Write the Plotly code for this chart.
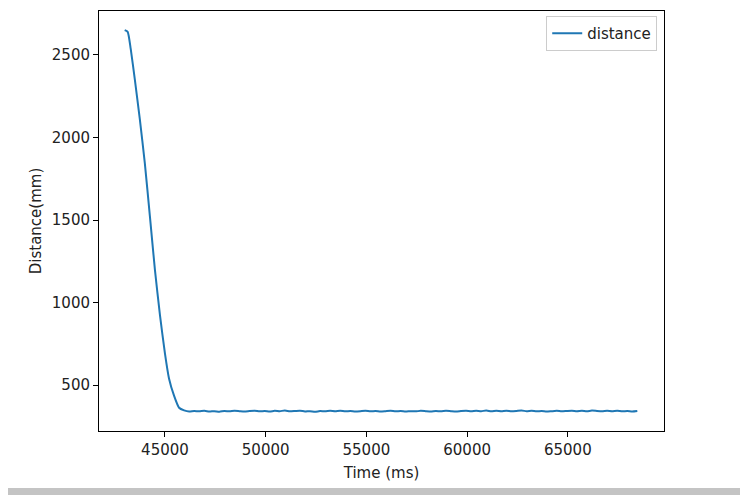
import plotly.graph_objects as go

# time stamps (ms) and measured distance (mm)
time_ms = [
    43000, 43150, 43300, 43500, 43750, 44000, 44250, 44500, 44750, 45000,
    45200, 45450, 45700, 45950,
    46200, 46450, 46700, 46950, 47200, 47450, 47700, 47950, 48200, 48450,
    48700, 48950, 49200, 49450, 49700, 49950, 50200, 50450, 50700, 50950,
    51200, 51450, 51700, 51950, 52200, 52450, 52700, 52950, 53200, 53450,
    53700, 53950, 54200, 54450, 54700, 54950, 55200, 55450, 55700, 55950,
    56200, 56450, 56700, 56950, 57200, 57450, 57700, 57950, 58200, 58450,
    58700, 58950, 59200, 59450, 59700, 59950, 60200, 60450, 60700, 60950,
    61200, 61450, 61700, 61950, 62200, 62450, 62700, 62950, 63200, 63450,
    63700, 63950, 64200, 64450, 64700, 64950, 65200, 65450, 65700, 65950,
    66200, 66450, 66700, 66950, 67200, 67450, 67700, 67950, 68200, 68450,
]
distance = [
    2650, 2640, 2536, 2355, 2112, 1845, 1525, 1200, 925, 690,
    540, 436, 363, 347,
    340, 343, 341, 344, 340, 342, 339, 343, 341, 344,
    342, 340, 343, 345, 341, 343, 340, 344, 342, 346,
    341, 343, 345, 340, 342, 338, 343, 341, 344, 342,
    345, 341, 343, 340, 342, 345, 341, 343, 340, 342,
    344, 341, 343, 340, 342, 341, 344, 342, 340, 343,
    341, 344, 342, 340, 343, 345, 341, 344, 342, 346,
    341, 344, 342, 345, 341, 343, 346, 342, 344, 341,
    343, 340, 342, 344, 341, 343, 345, 342, 344, 341,
    346, 343, 341, 344, 342, 345, 341, 343, 340, 343,
]

x_ticks = [45000, 50000, 55000, 60000, 65000]
y_ticks = [500, 1000, 1500, 2000, 2500]

fig = go.Figure()
fig.add_trace(go.Scatter(
    x=time_ms, y=distance, mode="lines", name="distance",
    line=dict(color="#1f77b4", width=2, shape="spline", smoothing=0.5),
))

axis_style = dict(
    showline=True, linecolor="black", linewidth=1, mirror=True,
    ticks="outside", ticklen=5, tickwidth=1, tickcolor="black",
    showgrid=False, zeroline=False, automargin=False,
    tickfont=dict(size=15, color="#222"),
)

# the page body adds an 8px offset, so margins are shifted to compensate
fig.update_layout(
    width=748, height=495,
    margin=dict(l=91, r=92, t=3, b=72),
    paper_bgcolor="white", plot_bgcolor="white",
    font=dict(family="DejaVu Sans", size=15, color="#222"),
    xaxis=dict(axis_style, range=[41725, 69775], tickvals=x_ticks,
               ticktext=[str(v) for v in x_ticks],
               title=dict(text="Time (ms)", standoff=9, font=dict(size=15))),
    yaxis=dict(axis_style, range=[222, 2766], tickvals=y_ticks,
               ticktext=[str(v) for v in y_ticks],
               title=dict(text="Distance(mm)", standoff=6, font=dict(size=15))),
    showlegend=True,
    legend=dict(x=0.988, y=0.988, xanchor="right", yanchor="top",
                bordercolor="#cccccc", borderwidth=1, bgcolor="white",
                font=dict(size=15)),
    shapes=[dict(type="rect", xref="paper", yref="paper",
                 x0=-91 / 565, x1=1 + 92 / 565, y0=-64 / 420, y1=-57 / 420,
                 fillcolor="#c4c4c4", line=dict(width=0), layer="above")],
)

fig.write_html("out.html")
